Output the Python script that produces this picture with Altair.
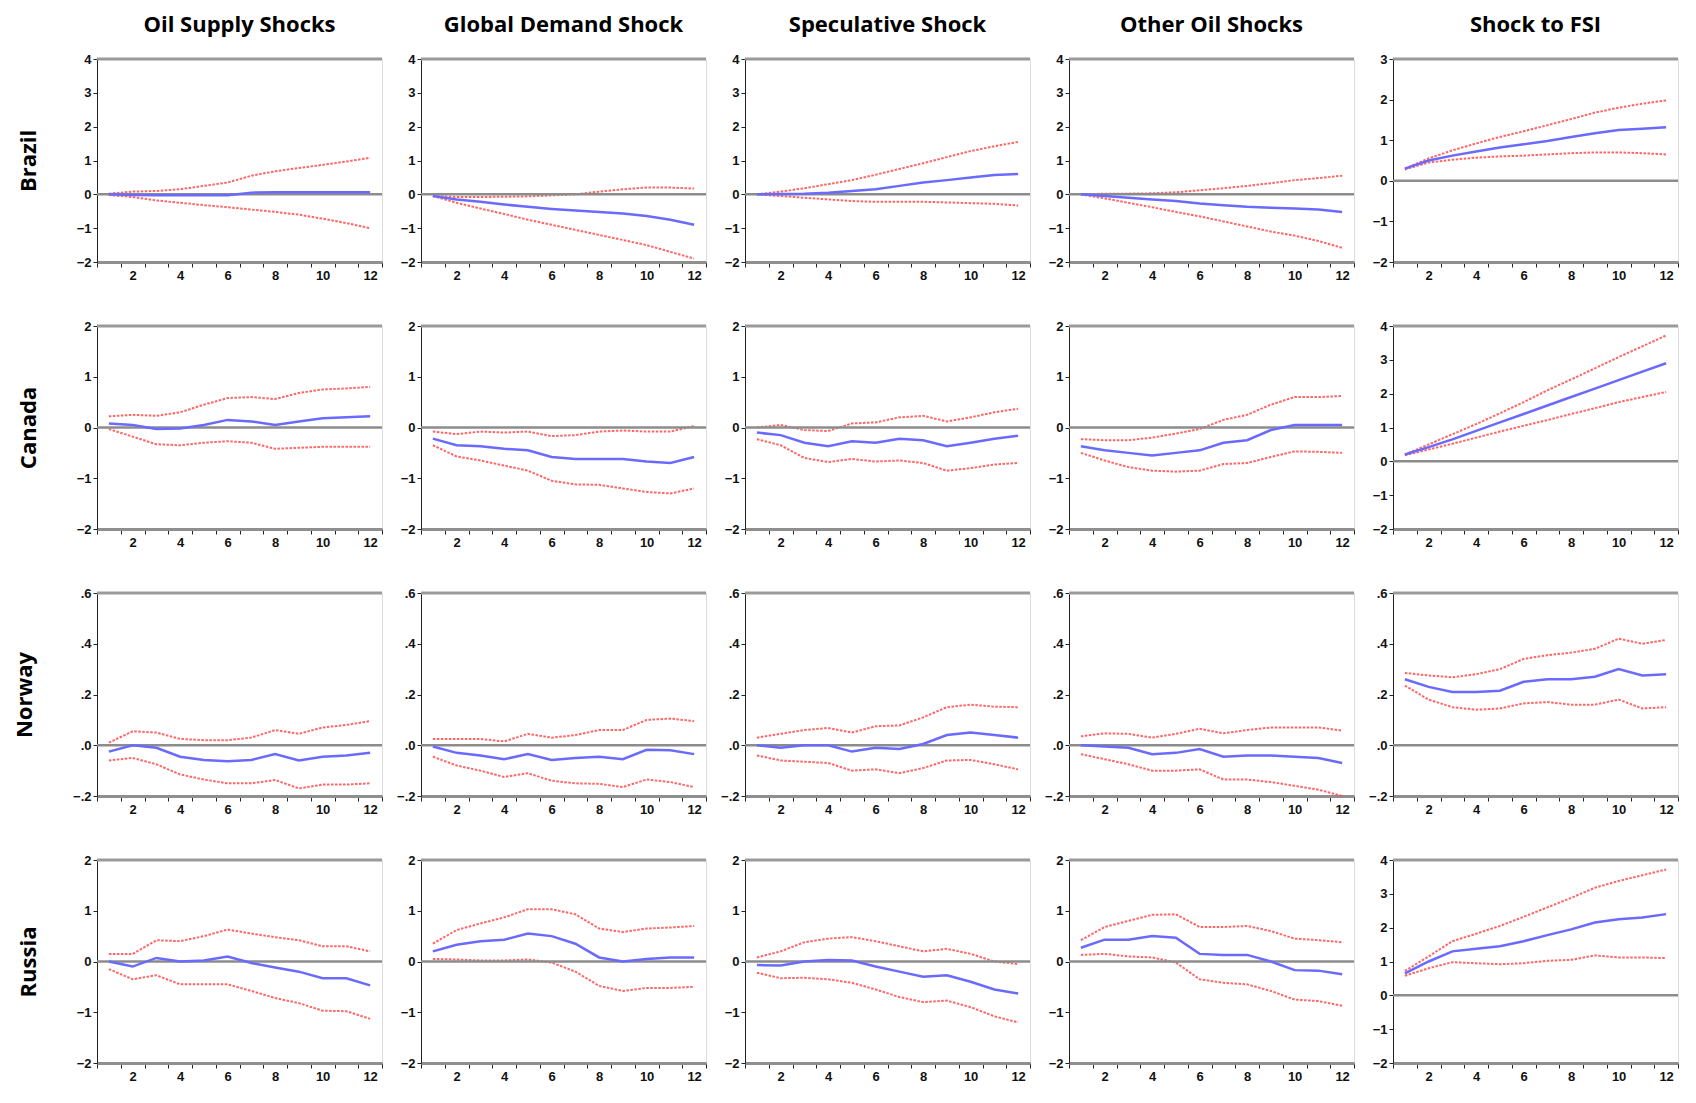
import altair as alt
import pandas as pd

SHOCKS = ["Oil Supply Shocks", "Global Demand Shock", "Speculative Shock",
          "Other Oil Shocks", "Shock to FSI"]
COUNTRIES = ["Brazil", "Canada", "Norway", "Russia"]
HORIZON = list(range(1, 13))

# ---- Brazil (one list per shock, in SHOCKS order) ----
BRAZIL_IRF = [
    [0.0, -0.02, -0.03, -0.03, -0.03, -0.03, 0.05, 0.06, 0.06, 0.06, 0.06, 0.06],
    [-0.05, -0.15, -0.22, -0.30, -0.37, -0.43, -0.48, -0.52, -0.57, -0.64, -0.75, -0.90],
    [0.0, 0.01, 0.02, 0.05, 0.10, 0.15, 0.25, 0.35, 0.42, 0.50, 0.57, 0.60],
    [0.0, -0.05, -0.10, -0.15, -0.20, -0.27, -0.32, -0.37, -0.40, -0.42, -0.45, -0.52],
    [0.30, 0.50, 0.62, 0.72, 0.82, 0.90, 0.98, 1.08, 1.17, 1.25, 1.28, 1.32],
]
BRAZIL_LO = [
    [-0.02, -0.08, -0.18, -0.25, -0.32, -0.38, -0.45, -0.52, -0.60, -0.72, -0.85, -1.00],
    [-0.05, -0.25, -0.42, -0.58, -0.75, -0.90, -1.05, -1.20, -1.35, -1.50, -1.70, -1.90],
    [0.0, -0.05, -0.10, -0.15, -0.20, -0.22, -0.22, -0.22, -0.24, -0.26, -0.28, -0.33],
    [0.0, -0.12, -0.25, -0.38, -0.52, -0.65, -0.80, -0.95, -1.10, -1.22, -1.38, -1.58],
    [0.28, 0.45, 0.52, 0.57, 0.60, 0.62, 0.65, 0.68, 0.70, 0.70, 0.68, 0.65],
]
BRAZIL_HI = [
    [0.02, 0.08, 0.10, 0.15, 0.25, 0.35, 0.55, 0.68, 0.78, 0.87, 0.97, 1.08],
    [-0.05, -0.08, -0.08, -0.07, -0.06, -0.03, 0.0, 0.08, 0.15, 0.20, 0.20, 0.17],
    [0.0, 0.08, 0.18, 0.30, 0.42, 0.58, 0.75, 0.92, 1.10, 1.28, 1.42, 1.55],
    [0.0, 0.02, 0.02, 0.03, 0.06, 0.12, 0.18, 0.25, 0.33, 0.42, 0.48, 0.55],
    [0.30, 0.55, 0.75, 0.92, 1.08, 1.22, 1.37, 1.52, 1.68, 1.80, 1.90, 1.98],
]

# ---- Canada ----
CANADA_IRF = [
    [0.08, 0.05, -0.03, -0.02, 0.05, 0.15, 0.12, 0.05, 0.12, 0.18, 0.20, 0.22],
    [-0.22, -0.35, -0.37, -0.42, -0.45, -0.58, -0.62, -0.62, -0.62, -0.67, -0.70, -0.58],
    [-0.10, -0.15, -0.30, -0.37, -0.27, -0.30, -0.22, -0.25, -0.37, -0.30, -0.22, -0.16],
    [-0.37, -0.45, -0.50, -0.55, -0.50, -0.45, -0.30, -0.25, -0.05, 0.05, 0.05, 0.05],
    [0.20, 0.42, 0.65, 0.90, 1.15, 1.40, 1.65, 1.90, 2.15, 2.40, 2.65, 2.90],
]
CANADA_LO = [
    [-0.03, -0.18, -0.33, -0.35, -0.30, -0.27, -0.30, -0.42, -0.40, -0.38, -0.38, -0.38],
    [-0.35, -0.57, -0.65, -0.75, -0.85, -1.05, -1.12, -1.13, -1.20, -1.27, -1.30, -1.20],
    [-0.23, -0.35, -0.60, -0.68, -0.62, -0.67, -0.65, -0.70, -0.85, -0.80, -0.73, -0.70],
    [-0.50, -0.65, -0.78, -0.85, -0.87, -0.85, -0.72, -0.70, -0.58, -0.47, -0.48, -0.50],
    [0.18, 0.35, 0.52, 0.70, 0.88, 1.05, 1.22, 1.40, 1.57, 1.75, 1.90, 2.05],
]
CANADA_HI = [
    [0.22, 0.25, 0.23, 0.30, 0.45, 0.58, 0.60, 0.56, 0.68, 0.75, 0.77, 0.80],
    [-0.08, -0.13, -0.08, -0.10, -0.08, -0.17, -0.15, -0.08, -0.06, -0.08, -0.08, 0.03],
    [0.0, 0.05, -0.05, -0.07, 0.08, 0.10, 0.20, 0.23, 0.12, 0.20, 0.30, 0.37],
    [-0.23, -0.25, -0.25, -0.20, -0.12, -0.03, 0.15, 0.25, 0.45, 0.60, 0.60, 0.62],
    [0.20, 0.50, 0.80, 1.10, 1.42, 1.75, 2.10, 2.42, 2.75, 3.08, 3.40, 3.72],
]

# ---- Norway ----
NORWAY_IRF = [
    [-0.025, 0.0, -0.01, -0.045, -0.058, -0.063, -0.058, -0.035, -0.06, -0.045, -0.04, -0.03],
    [-0.005, -0.03, -0.04, -0.055, -0.035, -0.058, -0.05, -0.045, -0.055, -0.018, -0.02, -0.035],
    [0.0, -0.01, 0.0, 0.0, -0.025, -0.01, -0.015, 0.005, 0.04, 0.05, 0.04, 0.03],
    [0.0, -0.005, -0.01, -0.035, -0.03, -0.015, -0.045, -0.04, -0.04, -0.045, -0.05, -0.07],
    [0.26, 0.23, 0.21, 0.21, 0.215, 0.25, 0.26, 0.26, 0.27, 0.30, 0.275, 0.28],
]
NORWAY_LO = [
    [-0.06, -0.05, -0.075, -0.115, -0.135, -0.15, -0.15, -0.137, -0.17, -0.155, -0.155, -0.15],
    [-0.045, -0.08, -0.10, -0.125, -0.11, -0.14, -0.15, -0.152, -0.165, -0.135, -0.145, -0.165],
    [-0.04, -0.06, -0.065, -0.07, -0.10, -0.095, -0.11, -0.09, -0.06, -0.058, -0.075, -0.095],
    [-0.035, -0.055, -0.075, -0.10, -0.10, -0.095, -0.135, -0.135, -0.145, -0.16, -0.175, -0.20],
    [0.235, 0.18, 0.15, 0.14, 0.145, 0.165, 0.17, 0.16, 0.16, 0.18, 0.145, 0.15],
]
NORWAY_HI = [
    [0.01, 0.055, 0.05, 0.025, 0.02, 0.02, 0.03, 0.06, 0.045, 0.07, 0.08, 0.095],
    [0.025, 0.025, 0.025, 0.015, 0.045, 0.03, 0.04, 0.06, 0.06, 0.10, 0.105, 0.095],
    [0.03, 0.045, 0.06, 0.068, 0.05, 0.075, 0.078, 0.11, 0.15, 0.16, 0.152, 0.15],
    [0.035, 0.047, 0.045, 0.03, 0.045, 0.065, 0.047, 0.06, 0.07, 0.07, 0.07, 0.058],
    [0.285, 0.275, 0.268, 0.28, 0.30, 0.34, 0.355, 0.365, 0.38, 0.42, 0.40, 0.415],
]

# ---- Russia ----
RUSSIA_IRF = [
    [0.0, -0.10, 0.07, 0.0, 0.02, 0.10, -0.03, -0.12, -0.20, -0.33, -0.33, -0.47],
    [0.20, 0.33, 0.40, 0.43, 0.55, 0.50, 0.35, 0.08, 0.0, 0.05, 0.08, 0.08],
    [-0.07, -0.08, 0.0, 0.03, 0.02, -0.10, -0.20, -0.30, -0.27, -0.40, -0.55, -0.63],
    [0.27, 0.43, 0.43, 0.50, 0.47, 0.15, 0.13, 0.13, 0.0, -0.17, -0.18, -0.25],
    [0.65, 1.00, 1.30, 1.38, 1.45, 1.60, 1.78, 1.95, 2.15, 2.25, 2.30, 2.40],
]
RUSSIA_LO = [
    [-0.15, -0.35, -0.27, -0.45, -0.45, -0.45, -0.58, -0.72, -0.82, -0.97, -0.98, -1.13],
    [0.05, 0.04, 0.02, 0.02, 0.04, -0.02, -0.20, -0.48, -0.58, -0.52, -0.52, -0.50],
    [-0.22, -0.33, -0.32, -0.35, -0.42, -0.55, -0.70, -0.80, -0.77, -0.90, -1.08, -1.20],
    [0.13, 0.15, 0.10, 0.08, -0.02, -0.35, -0.42, -0.45, -0.58, -0.75, -0.78, -0.87],
    [0.58, 0.80, 0.98, 0.95, 0.92, 0.95, 1.02, 1.05, 1.18, 1.12, 1.12, 1.10],
]
RUSSIA_HI = [
    [0.15, 0.15, 0.42, 0.40, 0.50, 0.63, 0.55, 0.48, 0.42, 0.30, 0.30, 0.20],
    [0.35, 0.62, 0.75, 0.87, 1.03, 1.03, 0.93, 0.65, 0.58, 0.65, 0.67, 0.70],
    [0.08, 0.20, 0.38, 0.45, 0.48, 0.40, 0.30, 0.20, 0.25, 0.15, 0.0, -0.05],
    [0.42, 0.68, 0.80, 0.92, 0.93, 0.68, 0.68, 0.70, 0.60, 0.45, 0.42, 0.38],
    [0.72, 1.15, 1.60, 1.82, 2.05, 2.32, 2.60, 2.88, 3.18, 3.38, 3.55, 3.72],
]

# y-axis extents and tick values per panel
Y_DOMAIN = {
    "Brazil": [[-2, 4]] * 4 + [[-2, 3]],
    "Canada": [[-2, 2]] * 4 + [[-2, 4]],
    "Norway": [[-0.2, 0.6]] * 5,
    "Russia": [[-2, 2]] * 4 + [[-2, 4]],
}
Y_TICKS = {
    "Brazil": [[-2, -1, 0, 1, 2, 3, 4]] * 4 + [[-2, -1, 0, 1, 2, 3]],
    "Canada": [[-2, -1, 0, 1, 2]] * 4 + [[-2, -1, 0, 1, 2, 3, 4]],
    "Norway": [[-0.2, 0.0, 0.2, 0.4, 0.6]] * 5,
    "Russia": [[-2, -1, 0, 1, 2]] * 4 + [[-2, -1, 0, 1, 2, 3, 4]],
}
X_TICK_VALUES = [0.5, 1.5, 2.5, 3.5, 4.5, 5.5, 6.5, 7.5, 8.5, 9.5, 10.5, 11.5, 12.5]
X_LABEL_VALUES = [2, 4, 6, 8, 10, 12]

DATA = {
    "Brazil": (BRAZIL_IRF, BRAZIL_LO, BRAZIL_HI),
    "Canada": (CANADA_IRF, CANADA_LO, CANADA_HI),
    "Norway": (NORWAY_IRF, NORWAY_LO, NORWAY_HI),
    "Russia": (RUSSIA_IRF, RUSSIA_LO, RUSSIA_HI),
}

PANEL_W = 285
PANEL_H = 203
TICK_FONT = "Liberation Sans"
TICK_SIZE = 13
HEAD_FONT = "Open Sans"
BLUE = "#6a6aff"
RED = "#ff4a4a"
GRAY = "#8c8c8c"


def panel(ci, si):
    country = COUNTRIES[ci]
    irf, lo, hi = DATA[country]
    df_irf = pd.DataFrame({"h": HORIZON, "value": irf[si]})
    df_band = pd.DataFrame({
        "h": HORIZON * 2,
        "value": lo[si] + hi[si],
        "band": ["lower"] * 12 + ["upper"] * 12,
    })
    df_zero = pd.DataFrame({"value": [0.0]})

    if country == "Norway":
        y_label_expr = "replace(format(datum.value, '.1f'), '0.', '.')"
    else:
        y_label_expr = "format(datum.value, 'd')"

    xscale = alt.Scale(domain=[0.5, 12.5], nice=False, zero=False)
    yscale = alt.Scale(domain=Y_DOMAIN[country][si], nice=False, zero=False)

    xaxis = alt.Axis(
        values=X_TICK_VALUES + X_LABEL_VALUES,
        labelExpr="datum.value % 2 === 0 ? format(datum.value, 'd') : ''",
        tickOpacity={"condition": {"test": "datum.value % 1 === 0", "value": 0}, "value": 1},
        labelOverlap=False,
        labelFlush=False,
        labelFont=TICK_FONT,
        labelFontSize=TICK_SIZE,
        labelFontWeight="bold",
        labelColor="#111111",
        labelPadding=2,
        tickSize=5,
        tickColor="#222222",
        domainColor="#8f8f8f",
        domainWidth=3,
        grid=False,
        title=None,
    )
    yaxis_kwargs = dict(
        values=Y_TICKS[country][si],
        labelExpr=y_label_expr,
        labelOverlap=False,
        labelFlush=False,
        labelFont=TICK_FONT,
        labelFontSize=TICK_SIZE,
        labelFontWeight="bold",
        labelColor="#111111",
        labelPadding=2,
        tickSize=4,
        tickColor="#222222",
        domainColor="#222222",
        domainWidth=1,
        grid=False,
    )
    if si == 0:
        yaxis_kwargs.update(
            title=country,
            titleFont=HEAD_FONT,
            titleFontSize=22,
            titleFontWeight="bold",
            titleColor="#000000",
            titlePadding=36,
        )
    else:
        yaxis_kwargs.update(title=None)
    yaxis = alt.Axis(**yaxis_kwargs)

    zero = alt.Chart(df_zero).mark_rule(color=GRAY, strokeWidth=2.5).encode(
        y=alt.Y("value:Q", scale=yscale, axis=yaxis)
    )
    top = alt.Chart(df_zero).mark_rule(color="#9a9a9a", strokeWidth=3).encode(
        y=alt.value(0)
    )
    band = alt.Chart(df_band).mark_line(
        color=RED, strokeWidth=2, strokeDash=[2.5, 1.5], opacity=0.85
    ).encode(
        x=alt.X("h:Q", scale=xscale, axis=xaxis),
        y=alt.Y("value:Q", scale=yscale, axis=yaxis),
        detail="band:N",
    )
    line = alt.Chart(df_irf).mark_line(color=BLUE, strokeWidth=2.5).encode(
        x=alt.X("h:Q", scale=xscale, axis=xaxis),
        y=alt.Y("value:Q", scale=yscale, axis=yaxis),
    )
    layered = alt.layer(band, zero, top, line).properties(width=PANEL_W, height=PANEL_H)
    if ci == 0:
        layered = layered.properties(
            title=alt.TitleParams(
                text=SHOCKS[si], font=HEAD_FONT, fontSize=22, fontWeight="bold",
                color="#000000", anchor="middle", offset=16,
            )
        )
    return layered


panels = [panel(ci, si) for ci in range(4) for si in range(5)]

chart = alt.concat(
    *panels, columns=5, spacing={"row": 36, "column": 12}
).properties(
    align="each"
).configure_view(
    stroke="#8a8a8a", strokeWidth=1
).configure(background="white")

chart.save("out.html", embed_options={"renderer": "svg", "actions": False})
